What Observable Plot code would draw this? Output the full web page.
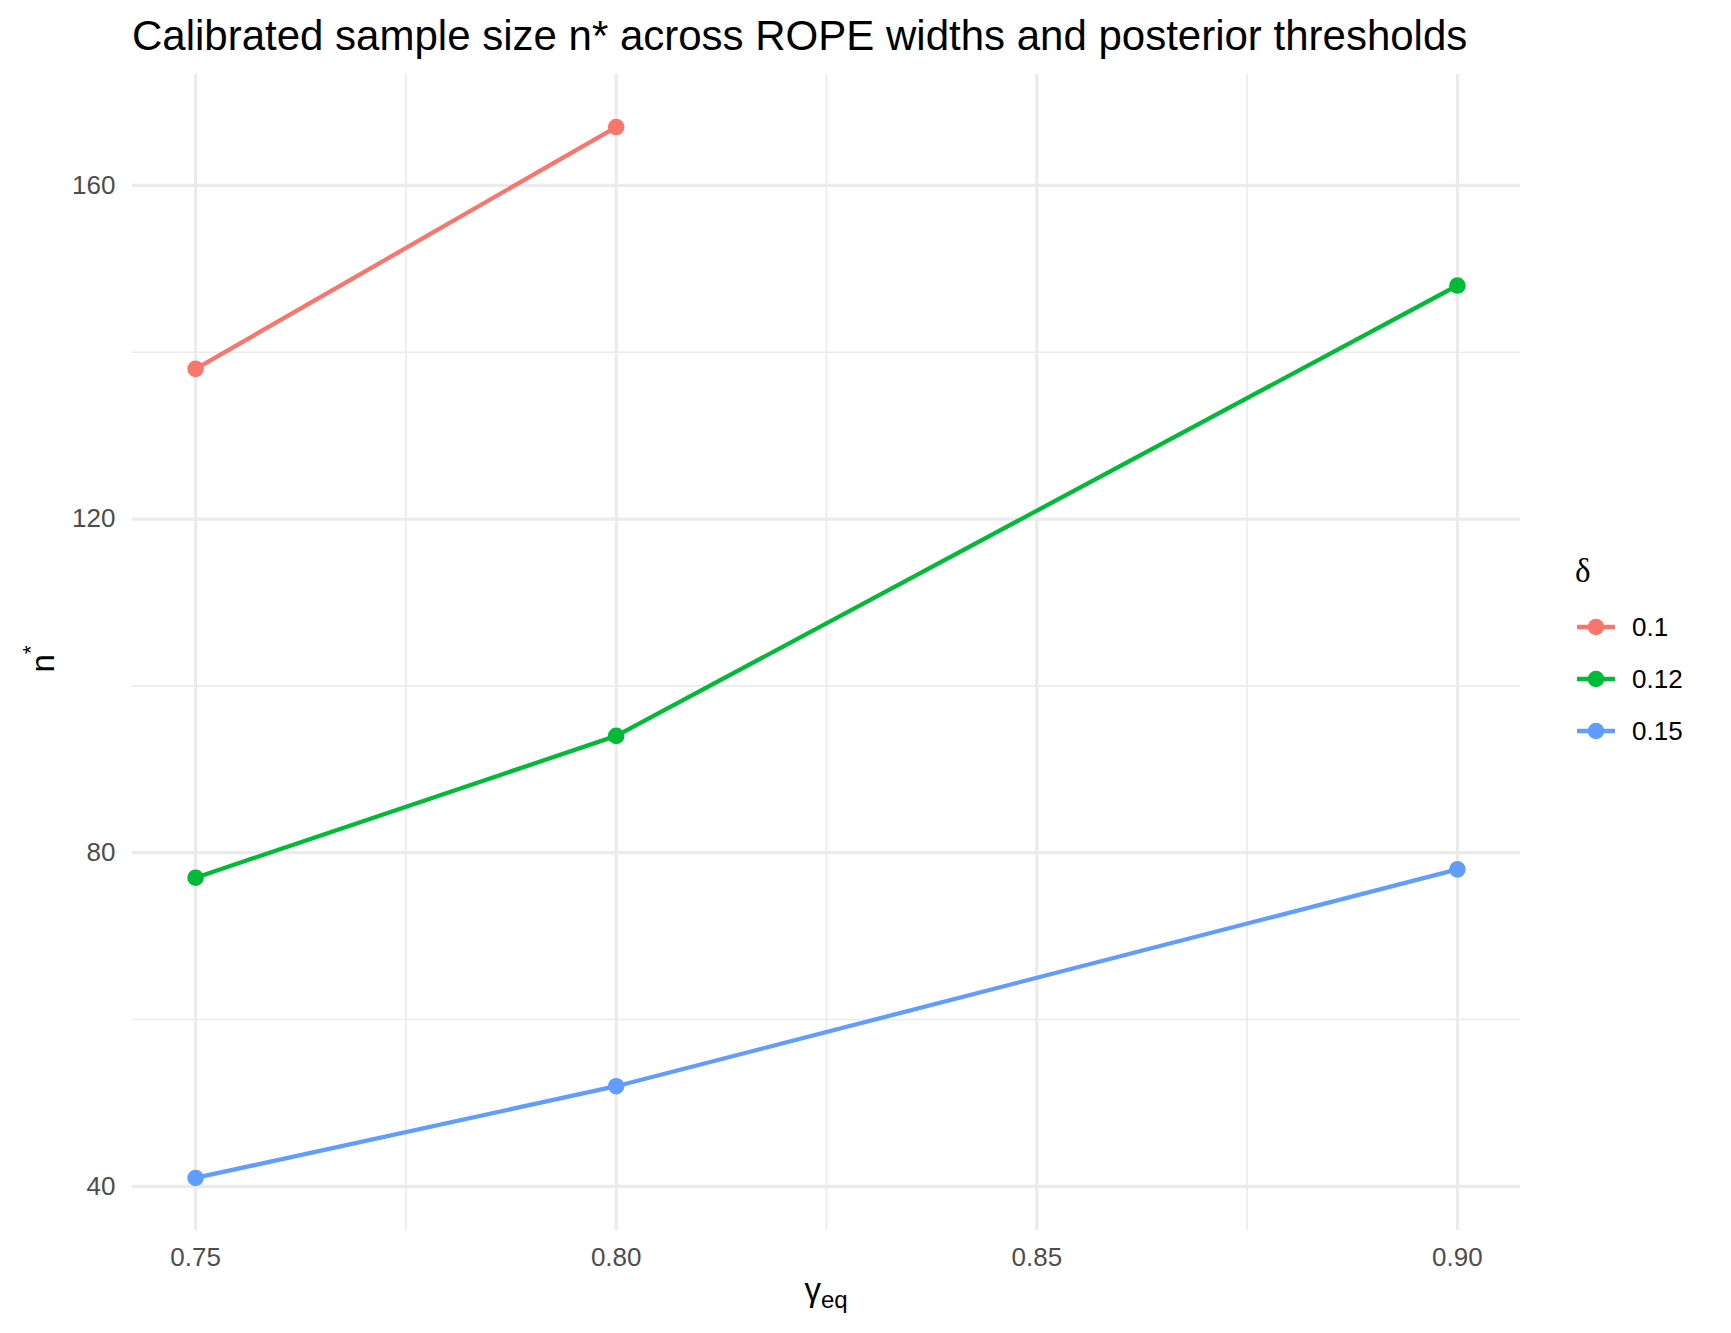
<!DOCTYPE html>
<html>
<head>
<meta charset="utf-8">
<script src="https://cdn.jsdelivr.net/npm/d3@7"></script>
<script src="https://cdn.jsdelivr.net/npm/@observablehq/plot@0.6"></script>
<style>
  html, body { margin: 0; padding: 0; background: #fff; }
  #wrap { position: relative; width: 1731px; height: 1333px; font-family: "Liberation Sans", Arial, Helvetica, sans-serif; }
  #title { position: absolute; left: 132px; top: 15px; font-size: 42px; line-height: 1; color: #000; white-space: nowrap; }
  #chart { position: absolute; left: 0; top: 0; }
  #ylab { position: absolute; left: 42px; top: 659px; transform: translate(-50%, -50%) rotate(-90deg); font-size: 33px; line-height: 1; white-space: nowrap; color: #000; }
  #ylab sup { font-size: 22px; position: relative; top: -4px; vertical-align: super; line-height: 0; }
  #xlab { position: absolute; left: 826px; top: 1289px; transform: translate(-50%, -50%); font-size: 33px; line-height: 1; white-space: nowrap; color: #000; }
  #xlab sub { font-size: 24px; vertical-align: sub; line-height: 0; }
  #legend { position: absolute; left: 1575px; top: 555px; }
  #legend .ltitle { font-family: "Liberation Serif", "DejaVu Serif", serif; font-size: 33px; line-height: 1; height: 46px; }
  #legend .item { display: flex; align-items: center; height: 52px; font-size: 26px; }
  #legend .item svg { margin-right: 15px; }
</style>
</head>
<body>
<div id="wrap">
  <div id="chart"></div>
  <div id="title">Calibrated sample size n* across ROPE widths and posterior thresholds</div>
  <div id="ylab">n<sup>*</sup></div>
  <div id="xlab">γ<sub>eq</sub></div>
  <div id="legend"></div>
</div>
<script>
// ---- data ----
const gammaLevels = [0.75, 0.80, 0.90];
const deltaLabels = ["0.1", "0.12", "0.15"];
const nDelta010 = [138, 167, null];
const nDelta012 = [77, 94, 148];
const nDelta015 = [41, 52, 78];
const seriesColors = ["#F8766D", "#00BA38", "#619CFF"];
const xMajorTicks = [0.75, 0.80, 0.85, 0.90];
const xMinorTicks = [0.775, 0.825, 0.875];
const yMajorTicks = [40, 80, 120, 160];
const yMinorTicks = [60, 100, 140];

// build table
const seriesValues = [nDelta010, nDelta012, nDelta015];
const table = [];
deltaLabels.forEach((d, i) => {
  gammaLevels.forEach((g, j) => {
    const v = seriesValues[i][j];
    if (v != null) table.push({gamma: g, n: v, delta: d});
  });
});

// ggplot-like 5% expansion
const xs = table.map(d => d.gamma), ys = table.map(d => d.n);
const [x0, x1] = d3.extent(xs), [y0, y1] = d3.extent(ys);
const xPad = (x1 - x0) * 0.05, yPad = (y1 - y0) * 0.05;

const grid = "#EBEBEB";
const plot = Plot.plot({
  width: 1731,
  height: 1333,
  marginLeft: 132,
  marginRight: 211,
  marginTop: 74,
  marginBottom: 103,
  style: {fontFamily: '"Liberation Sans", Arial, sans-serif', background: "#fff"},
  x: {domain: [x0 - xPad, x1 + xPad]},
  y: {domain: [y0 - yPad, y1 + yPad]},
  color: {domain: deltaLabels, range: seriesColors},
  marks: [
    Plot.gridX(xMinorTicks, {stroke: grid, strokeOpacity: 1, strokeWidth: 1.6}),
    Plot.gridY(yMinorTicks, {stroke: grid, strokeOpacity: 1, strokeWidth: 1.6}),
    Plot.gridX(xMajorTicks, {stroke: grid, strokeOpacity: 1, strokeWidth: 3.2}),
    Plot.gridY(yMajorTicks, {stroke: grid, strokeOpacity: 1, strokeWidth: 3.2}),
    Plot.axisX(xMajorTicks, {tickSize: 0, tickPadding: 17, tickFormat: d3.format(".2f"), fontSize: 26, fill: "#4D4D4D", label: null}),
    Plot.axisY(yMajorTicks, {tickSize: 0, tickPadding: 17, fontSize: 26, fill: "#4D4D4D", label: null}),
    Plot.line(table, {x: "gamma", y: "n", stroke: "delta", z: "delta", strokeWidth: 4.3}),
    Plot.dot(table, {x: "gamma", y: "n", fill: "delta", r: 8.3, stroke: "none"})
  ]
});
document.getElementById("chart").appendChild(plot);

// legend
const legend = document.getElementById("legend");
const lt = document.createElement("div");
lt.className = "ltitle";
lt.textContent = "δ";
legend.appendChild(lt);
deltaLabels.forEach((d, i) => {
  const item = document.createElement("div");
  item.className = "item";
  item.innerHTML = `<svg width="42" height="20"><line x1="2" y1="10" x2="40" y2="10" stroke="${seriesColors[i]}" stroke-width="4.3"/><circle cx="21" cy="10" r="8.3" fill="${seriesColors[i]}"/></svg><span>${d}</span>`;
  legend.appendChild(item);
});
</script>
</body>
</html>
